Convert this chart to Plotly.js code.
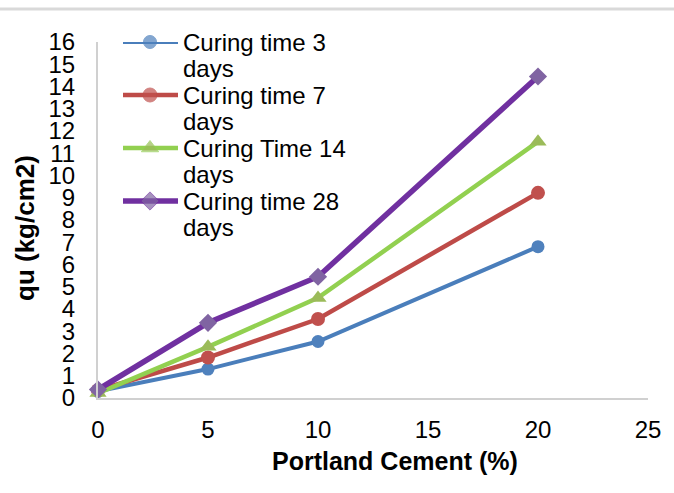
<!DOCTYPE html>
<html><head><meta charset="utf-8">
<script src="https://cdn.plot.ly/plotly-3.0.1.min.js"></script>
<style>html,body{margin:0;padding:0;background:#fff;}#chart{width:674px;height:493px;}</style>
</head><body><div id="chart"></div>
<script>
const cement = [0, 5, 10, 20];
const days3 = [0.30, 1.30, 2.54, 6.80];
const days7 = [0.35, 1.82, 3.55, 9.22];
const days14 = [0.22, 2.30, 4.50, 11.52];
const days28 = [0.38, 3.38, 5.45, 14.45];
const seriesNames = ["Curing time 3", "Curing time 7", "Curing Time 14", "Curing time 28"];
const xTicks = [0, 5, 10, 15, 20, 25];
const yTicks = [0,1,2,3,4,5,6,7,8,9,10,11,12,13,14,15,16];

const FONT = "Liberation Sans, Arial, sans-serif";
const styles = [
  {line:"#4A7EBB", marker:"#4F81BD", w:4, sym:"circle", size:13},
  {line:"#BE4B48", marker:"#C0504D", w:4.5, sym:"circle", size:14},
  {line:"#92D050", marker:"#9BBB59", w:4.5, sym:"triangle-up", size:15},
  {line:"#7030A0", marker:"#8064A2", w:5.5, sym:"diamond", size:14}
];
const values = [days3, days7, days14, days28];

const traces = values.map((v, i) => ({
  x: cement, y: v, type: "scatter", mode: "lines+markers", name: seriesNames[i],
  line: {color: styles[i].line, width: styles[i].w},
  marker: {color: styles[i].marker, symbol: styles[i].sym, size: styles[i].size},
  cliponaxis: false, showlegend: false, hoverinfo: "skip"
}));

// custom legend on a pixel overlay axis
const legRowY = [42, 95, 148, 201];
const annotations = [];
seriesNames.forEach((n, i) => {
  traces.push({
    x: [123, 150, 178], y: [legRowY[i], legRowY[i], legRowY[i]],
    xaxis: "x2", yaxis: "y2", type: "scatter", mode: "lines+markers",
    line: {color: styles[i].line, width: styles[i].w},
    marker: {color: styles[i].marker, symbol: styles[i].sym, size: [0, styles[i].size, 0]},
    cliponaxis: false, showlegend: false, hoverinfo: "skip"
  });
  annotations.push({xref: "x2", yref: "y2", x: 181, y: legRowY[i], text: n, showarrow: false,
    xanchor: "left", yanchor: "middle", font: {family: FONT, size: 24, color: "#000"}});
  annotations.push({xref: "x2", yref: "y2", x: 181, y: legRowY[i] + 26.5, text: "days", showarrow: false,
    xanchor: "left", yanchor: "middle", font: {family: FONT, size: 24, color: "#000"}});
});
annotations.push({xref: "paper", yref: "paper", x: (395 - 98) / 550, y: (398 - 461) / 356, text: "<b>Portland Cement (%)</b>", showarrow: false,
  xanchor: "center", yanchor: "middle", font: {family: FONT, size: 25, color: "#000"}});
annotations.push({xref: "paper", yref: "paper", x: (25 - 98) / 550, y: (398 - 228) / 356, text: "<b>qu (kg/cm2)</b>", showarrow: false, textangle: -90,
  xanchor: "center", yanchor: "middle", font: {family: FONT, size: 26, color: "#000"}});

const layout = {
  width: 674, height: 493,
  margin: {l: 98, r: 26, t: 42, b: 95},
  paper_bgcolor: "#fff", plot_bgcolor: "#fff",
  font: {family: FONT, size: 24, color: "#000"},
  xaxis: {range: [0, 25], tickvals: xTicks, ticktext: xTicks.map(String), showline: true, linecolor: "#d0d0d0", linewidth: 2,
    showgrid: false, zeroline: false, ticks: "outside", ticklen: 9, tickcolor: "rgba(0,0,0,0)",
    tickfont: {family: FONT, size: 24, color: "#000"}, fixedrange: true},
  yaxis: {range: [0, 16], tickvals: yTicks, ticktext: yTicks.map(String), showline: true, linecolor: "#d0d0d0", linewidth: 2,
    showgrid: false, zeroline: false, ticks: "outside", ticklen: 16, tickcolor: "rgba(0,0,0,0)",
    tickfont: {family: FONT, size: 24, color: "#000"}, fixedrange: true},
  xaxis2: {range: [98, 648], overlaying: "x", anchor: "y2", visible: false, fixedrange: true},
  yaxis2: {range: [398, 42], overlaying: "y", anchor: "x2", visible: false, fixedrange: true},
  shapes: [{type: "line", xref: "paper", yref: "paper", x0: -98/550, x1: 576/550, y0: 1 + 33/356, y1: 1 + 33/356,
    line: {color: "#d9d9d9", width: 3}}],
  annotations: annotations,
  showlegend: false
};
Plotly.newPlot("chart", traces, layout, {displayModeBar: false, staticPlot: true});
</script></body></html>
